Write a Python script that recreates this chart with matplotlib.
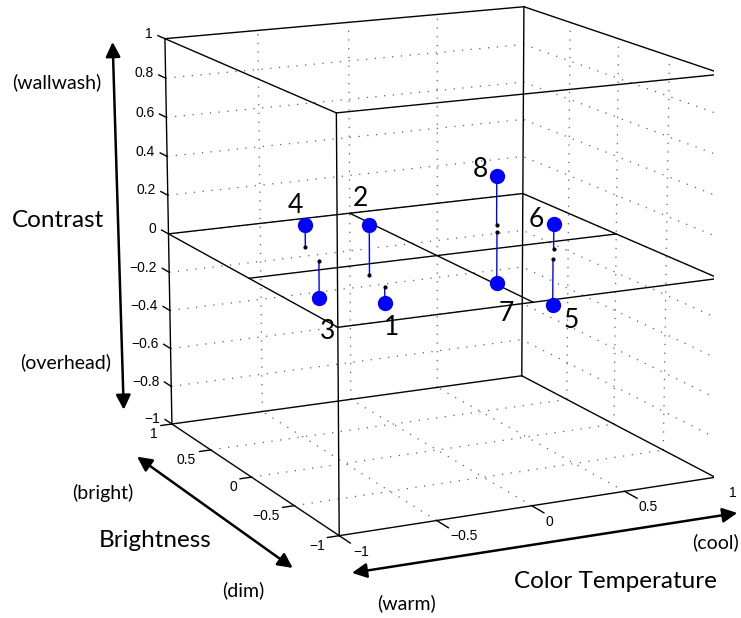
import numpy as np
import matplotlib.pyplot as plt
from matplotlib.patches import FancyArrowPatch
from mpl_toolkits.mplot3d import proj3d

plt.rcParams['font.family'] = ['Liberation Sans', 'DejaVu Sans']

# eight lighting scenes: position in the perceptual space
scene_names = ['1', '2', '3', '4', '5', '6', '7', '8']
color_temp = [-0.49, -0.46, -0.56, -0.50, 0.47, 0.57, 0.49, 0.55]
brightness = [-0.43, -0.20, 0.16, 0.45, -0.32, -0.14, 0.31, 0.43]
contrast = [-0.08, 0.25, -0.19, 0.11, -0.23, 0.13, -0.27, 0.26]

xy_ticks = [-1, -0.5, 0, 0.5, 1]
z_ticks = [-1, -0.8, -0.6, -0.4, -0.2, 0, 0.2, 0.4, 0.6, 0.8, 1]

# where each scene number sits relative to its marker (points)
name_offsets = [(5, -18), (-6, 19), (6, -24), (-7, 14),
                (13, -11), (-13, 3), (7, -22), (-12, 4)]

label_font = ['Lato', 'DejaVu Sans']
grid_kw = dict(color='#606060', lw=0.9, ls=(0, (1, 6)))
edge_kw = dict(color='k', lw=1)


def tick_text(t):
    return ('\u2212%g' % -t) if t < 0 else '%g' % t


fig = plt.figure(figsize=(7.41, 6.18), dpi=100)
ax = fig.add_axes([0.1594, 0.114, 0.84, 0.92], projection='3d')
ax.view_init(elev=14, azim=-116.5)
ax.set_proj_type('persp', focal_length=1.2)
ax.set_box_aspect((1, 1, 0.99), zoom=1.209)
ax.set_xlim(-1, 1, view_margin=0)
ax.set_ylim(-1, 1, view_margin=0)
ax.set_zlim(-1, 1, view_margin=0)
ax.set_axis_off()

# dotted grid on the three back faces (x = 1, y = 1, z = -1)
for t in z_ticks[1:-1]:
    ax.plot([-1, 1], [1, 1], [t, t], **grid_kw)
    ax.plot([1, 1], [-1, 1], [t, t], **grid_kw)
for t in xy_ticks[1:-1]:
    ax.plot([t, t], [1, 1], [-1, 1], **grid_kw)
    ax.plot([1, 1], [t, t], [-1, 1], **grid_kw)
    ax.plot([t, t], [-1, 1], [-1, -1], **grid_kw)
    ax.plot([-1, 1], [t, t], [-1, -1], **grid_kw)

# box outline
c = [-1, 1]
for a in c:
    for b in c:
        ax.plot([-1, 1], [a, a], [b, b], **edge_kw)
        ax.plot([a, a], [-1, 1], [b, b], **edge_kw)
        ax.plot([a, a], [b, b], [-1, 1], **edge_kw)

# tick marks
for t in xy_ticks:
    ax.plot([t, t], [-1, -1.12], [-1, -1], **edge_kw)
    ax.plot([-1, -1.06], [t, t], [-1, -1], **edge_kw)
for t in z_ticks:
    ax.plot([-1, -1], [1, 1.09], [t, t], **edge_kw)

# contrast = 0 plane split into quadrants
ax.plot([-1, 1, 1, -1, -1], [-1, -1, 1, 1, -1], [0, 0, 0, 0, 0], **edge_kw)
ax.plot([0, 0], [-1, 1], [0, 0], **edge_kw)
ax.plot([-1, 1], [0, 0], [0, 0], **edge_kw)

# stems from the zero plane up/down to each scene
for x, y, z in zip(color_temp, brightness, contrast):
    ax.plot([x, x], [y, y], [0, z], color='#0000ff', lw=1)
ax.plot(color_temp, brightness, np.zeros(len(contrast)), 'k.', ms=4)
ax.plot(color_temp, brightness, contrast, 'o', color='#0000ff', ms=10,
        markeredgecolor='#0000ff')

# texts are pinned to the projected 3D positions once the view is set up
fig.canvas.draw()


def label_at(x, y, z, s, dx, dy, **kw):
    px, py, _ = proj3d.proj_transform(x, y, z, ax.M)
    ax.annotate(s, (px, py), xytext=(dx, dy), textcoords='offset points',
                annotation_clip=False, **kw)


for t in xy_ticks:
    label_at(t, -1, -1, tick_text(t), 10, -11.5, fontsize=10, ha='left', va='center')
    label_at(-1, t, -1, tick_text(t), -10.5, -7.3, fontsize=10, ha='right', va='center')
for t in z_ticks:
    label_at(-1, 1, t, tick_text(t), -8.6, 3.4, fontsize=10, ha='right', va='center')

for name, x, y, z, (dx, dy) in zip(scene_names, color_temp, brightness,
                                   contrast, name_offsets):
    label_at(x, y, z, name, dx, dy, fontsize=19, family=label_font,
             ha='center', va='center')

# axis names and direction arrows
arrow_kw = dict(arrowstyle='<|-|>', mutation_scale=22, lw=1.8, color='k',
                transform=fig.transFigure, shrinkA=0, shrinkB=0)
fig.add_artist(FancyArrowPatch((0.167, 0.337), (0.152, 0.932), **arrow_kw))
fig.add_artist(FancyArrowPatch((0.185, 0.261), (0.395, 0.081), **arrow_kw))
fig.add_artist(FancyArrowPatch((0.475, 0.073), (0.995, 0.170), **arrow_kw))

small = dict(fontsize=14, family=label_font, ha='center', va='center')
big = dict(fontsize=17.5, family=label_font, ha='center', va='center')
fig.text(0.076, 0.867, '(wallwash)', **small)
fig.text(0.078, 0.644, 'Contrast', **big)
fig.text(0.089, 0.414, '(overhead)', **small)
fig.text(0.138, 0.202, '(bright)', **small)
fig.text(0.209, 0.126, 'Brightness', **big)
fig.text(0.328, 0.045, '(dim)', **small)
fig.text(0.549, 0.024, '(warm)', **small)
fig.text(0.965, 0.123, '(cool)', **small)
fig.text(0.831, 0.059, 'Color Temperature', **big)

fig.savefig('out.png', dpi=100)
